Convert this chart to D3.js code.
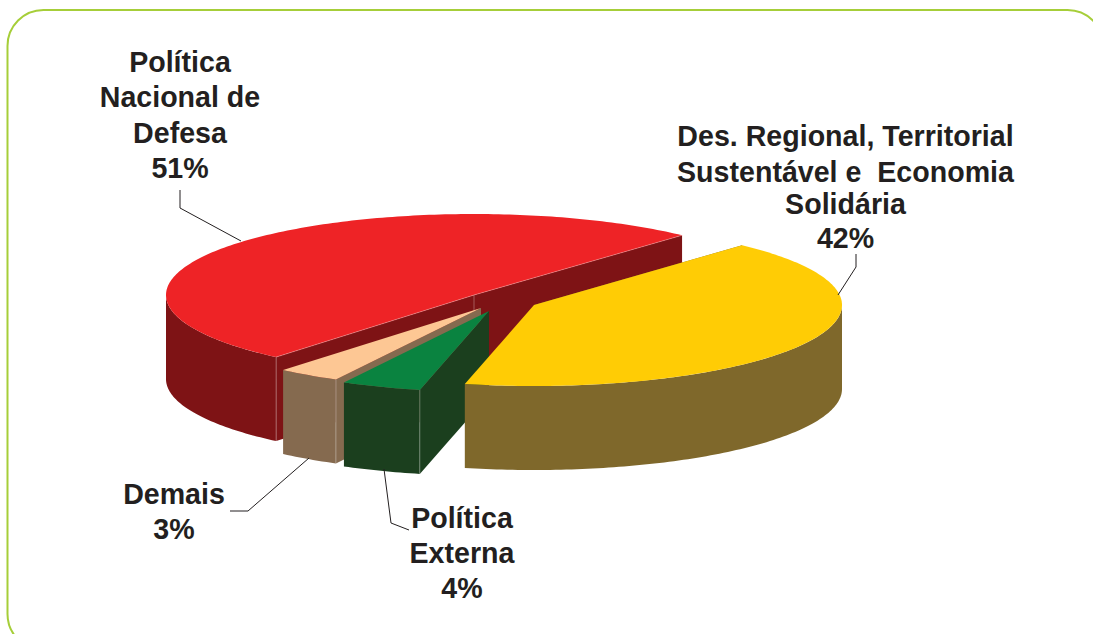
<!DOCTYPE html>
<html><head><meta charset="utf-8">
<script src="https://cdn.jsdelivr.net/npm/d3@7/dist/d3.min.js"></script>
<style>html,body{margin:0;padding:0;background:#fff}svg{display:block}text{white-space:pre}</style>
</head><body><svg id="c" width="1093" height="634"></svg>
<script>
const categories = ["Des. Regional, Territorial Sustentável e Economia Solidária","Política Externa","Demais","Política Nacional de Defesa"];
const shares = [41.8,4.2,3.3,50.7];
const topColors = ["#ffcc05","#0a8340","#fdc794","#ee2326"];
const wallColors = ["#7f682b","#1b3f1e","#856a4f","#7e1315"];
const explode = [[60,10],[15,16],[7,13],[0,0]];

const W=1093,H=634, cx=474, cy=295, rx=308, ry=81, depth=84;
const svg=d3.select("#c");
const rad=d3.scaleLinear().domain([0,360]).range([0,2*Math.PI]);
const xS=d3.scaleLinear().domain([-1,1]).range([cx-rx,cx+rx]);
const yS=d3.scaleLinear().domain([1,-1]).range([cy-ry,cy+ry]);
const arcs=d3.pie().sort(null).value(d=>d).startAngle(rad(42.5)).endAngle(rad(42.5)+2*Math.PI)(shares);
const line=d3.line();

svg.append("rect").attr("x",7.5).attr("y",10).attr("width",1096).attr("height",640).attr("rx",36)
  .attr("fill","#fff").attr("stroke","#a6ce39").attr("stroke-width",2);

function pt(a,i,dz){return [xS(Math.sin(a))+explode[i][0], yS(Math.cos(a))+explode[i][1]+(dz||0)];}
function ctr(i,dz){return [cx+explode[i][0],cy+explode[i][1]+(dz||0)];}
function samples(a0,a1){const n=Math.max(2,Math.ceil(Math.abs(a1-a0)/rad(1)));return d3.range(n+1).map(k=>a0+(a1-a0)*k/n);}

const order=[3,2,1,0];
order.forEach(i=>{
  const s=arcs[i], g=svg.append("g"), a0=s.startAngle, a1=s.endAngle;
  const wall=wallColors[i];
  const lo=Math.max(a0,rad(90)), hi=Math.min(a1,rad(270));
  if(hi>lo){
    const as=samples(lo,hi);
    const p=as.map(a=>pt(a,i)).concat(as.slice().reverse().map(a=>pt(a,i,depth)));
    g.append("path").attr("d",line(p)+"Z").attr("fill",wall);
  }
  const facing=i===3?[a0,a1]:[a0];
  facing.forEach(a=>{
    g.append("path").attr("d",line([ctr(i),pt(a,i),pt(a,i,depth),ctr(i,depth)])+"Z").attr("fill",wall);
  });
  const top=[ctr(i)].concat(samples(a0,a1).map(a=>pt(a,i)));
  g.append("path").attr("d",line(top)+"Z").attr("fill",topColors[i]);
  if(i!==0){
    const a=a0;
    g.append("path").attr("d",line([pt(a,i),pt(a,i,depth)])).attr("stroke","#fff").attr("stroke-opacity",.3).attr("stroke-width",1).attr("fill","none");
  }
  if(i===3){
    g.append("path").attr("d",line([ctr(i),ctr(i,depth)])).attr("stroke","#fff").attr("stroke-opacity",.3).attr("fill","none");
    g.append("path").attr("d",line([pt(a0,i),ctr(i),pt(a1,i)])).attr("stroke","#f8a0a0").attr("stroke-opacity",.6).attr("stroke-width",.8).attr("fill","none");
  }
});

const leaders=[
 [[180,190],[180,208],[241,241]],
 [[856,254],[856,267],[838,295]],
 [[309,458],[248,511],[230,511]],
 [[384,469],[391,523],[409,530]]
];
leaders.forEach(l=>svg.append("path").attr("d",line(l)).attr("fill","none").attr("stroke","#231f20").attr("stroke-width",1));

const labels=[
 {x:180,ys:[72,107.3,142.6,178],lines:["Política","Nacional de","Defesa","51%"]},
 {x:845.5,ys:[146,181.5,214,248],lines:["Des. Regional, Territorial","Sustentável e  Economia","Solidária","42%"]},
 {x:174,ys:[504,539],lines:["Demais","3%"]},
 {x:462,ys:[528,563,598],lines:["Política","Externa","4%"]}
];
labels.forEach(l=>{
  const t=svg.append("text").attr("text-anchor","middle").attr("font-family","'Liberation Sans',Arial,sans-serif")
    .attr("font-weight",700).attr("font-size",28.6).attr("fill","#231f20");
  l.lines.forEach((s,k)=>t.append("tspan").attr("x",l.x).attr("y",l.ys[k]).text(s));
});
</script></body></html>
